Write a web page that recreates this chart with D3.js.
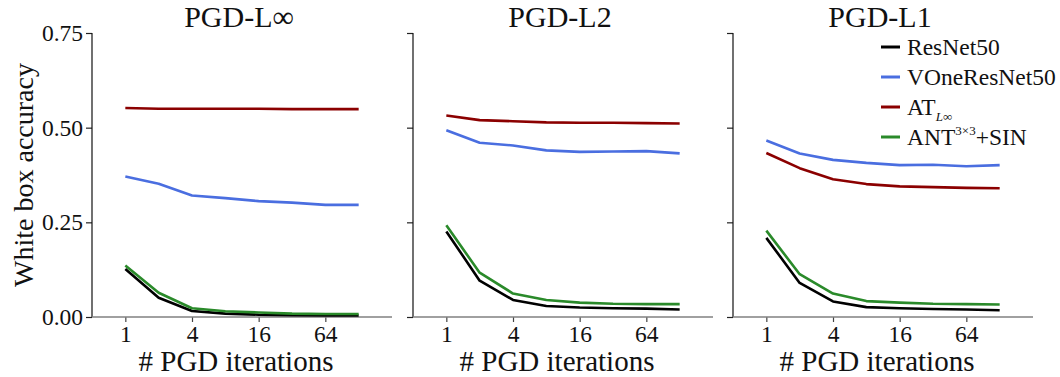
<!DOCTYPE html>
<html>
<head>
<meta charset="utf-8">
<script src="https://cdn.jsdelivr.net/npm/d3@7"></script>
<style>
  body { margin: 0; background: #fff; }
  svg text { font-family: "Liberation Serif", "Times New Roman", serif; fill: #111; }
</style>
</head>
<body>
<svg id="chart"></svg>
<script>
// x values (PGD iterations) shared by every panel
let iters = [1, 2, 4, 8, 16, 32, 64, 128];
let xTicks = [1, 4, 16, 64];
let yTicks = [0, 0.25, 0.5, 0.75];

let panelTitles = ["PGD-L\u221E", "PGD-L2", "PGD-L1"];
let modelNames = ["ResNet50", "VOneResNet50", "AT_Linf", "ANT3x3+SIN"];
let modelColors = ["#000000", "#4a6ee0", "#8b0000", "#2a8a2a"];

// PGD-Linf
let linfResNet = [0.127, 0.051, 0.016, 0.009, 0.006, 0.005, 0.004, 0.004];
let linfVOne   = [0.371, 0.352, 0.321, 0.314, 0.306, 0.302, 0.296, 0.296];
let linfAT     = [0.552, 0.550, 0.550, 0.550, 0.550, 0.549, 0.549, 0.549];
let linfANT    = [0.136, 0.064, 0.023, 0.015, 0.012, 0.009, 0.008, 0.008];

// PGD-L2
let l2ResNet = [0.226, 0.096, 0.045, 0.029, 0.025, 0.023, 0.022, 0.020];
let l2VOne   = [0.493, 0.460, 0.453, 0.440, 0.436, 0.437, 0.438, 0.432];
let l2AT     = [0.532, 0.520, 0.517, 0.514, 0.513, 0.513, 0.512, 0.511];
let l2ANT    = [0.242, 0.117, 0.062, 0.045, 0.038, 0.035, 0.034, 0.034];

// PGD-L1
let l1ResNet = [0.209, 0.090, 0.041, 0.026, 0.023, 0.021, 0.020, 0.018];
let l1VOne   = [0.466, 0.432, 0.415, 0.407, 0.401, 0.402, 0.398, 0.401];
let l1AT     = [0.433, 0.393, 0.364, 0.351, 0.345, 0.343, 0.341, 0.340];
let l1ANT    = [0.228, 0.113, 0.062, 0.042, 0.038, 0.035, 0.034, 0.033];

let panelData = [
  [linfResNet, linfVOne, linfAT, linfANT],
  [l2ResNet, l2VOne, l2AT, l2ANT],
  [l1ResNet, l1VOne, l1AT, l1ANT]
];

let w = 1060, h = 377;
let panelLeft = [92, 413, 733];
let pw = 300;
let yTop = 33, yBottom = 317;
let serif = "'Liberation Serif', 'Times New Roman', serif";

let svg = d3.select("#chart").attr("width", w).attr("height", h);

let xScale = d3.scaleLog().base(2).domain([0.5, 256]).range([0, pw]);
let yScale = d3.scaleLinear().domain([0, 0.75]).range([yBottom, yTop]);

function drawPanel(p) {
  let g = svg.append("g").attr("transform", "translate(" + panelLeft[p] + ",0)");

  // y axis
  let yAxis = d3.axisLeft(yScale).tickValues(yTicks).tickSize(6).tickPadding(3)
    .tickFormat(p == 0 ? d3.format(".2f") : "");
  let ya = g.append("g").call(yAxis);
  ya.select(".domain").remove();
  ya.selectAll(".tick line").attr("stroke", "#222").attr("stroke-width", 1.2);
  ya.selectAll(".tick text").attr("fill", "#111")
    .style("font-size", "23.5px").style("font-family", serif);
  g.append("line").attr("x1", 0).attr("x2", 0).attr("y1", yTop).attr("y2", yBottom)
    .attr("stroke", "#111").attr("stroke-width", 1.2);

  // x axis
  let xAxis = d3.axisBottom(xScale).tickValues(xTicks).tickSize(5).tickPadding(3)
    .tickFormat(d3.format("d"));
  let xa = g.append("g").attr("transform", "translate(0," + yBottom + ")").call(xAxis);
  xa.select(".domain").remove();
  xa.selectAll(".tick line").attr("stroke", "#444").attr("stroke-width", 1.2);
  xa.selectAll(".tick text").attr("fill", "#111")
    .style("font-size", "23.5px").style("font-family", serif);
  g.append("line").attr("x1", 0).attr("x2", pw).attr("y1", yBottom).attr("y2", yBottom)
    .attr("stroke", "#808080").attr("stroke-width", 1.5);

  // lines
  let line = d3.line()
    .x(function(d, i) { return xScale(iters[i]); })
    .y(function(d) { return yScale(d); });

  panelData[p].forEach(function(series, k) {
    g.append("path")
      .attr("d", line(series))
      .attr("fill", "none")
      .attr("stroke", modelColors[k])
      .attr("stroke-width", 2.6)
      .attr("stroke-linejoin", "round");
  });

  // title and x label
  g.append("text").attr("x", pw / 2 - 3).attr("y", 27).attr("text-anchor", "middle")
    .style("font-size", "30px").style("font-family", serif).text(panelTitles[p]);
  g.append("text").attr("x", pw / 2 - 6).attr("y", 371).attr("text-anchor", "middle")
    .style("font-size", "29px").style("font-family", serif).text("# PGD iterations");
}

for (let p = 0; p < 3; p++) drawPanel(p);

// y label
svg.append("text")
  .attr("transform", "translate(33," + ((yTop + yBottom) / 2) + ") rotate(-90)")
  .attr("text-anchor", "middle")
  .style("font-size", "28px").style("font-family", serif)
  .text("White box accuracy");

// legend
let legend = svg.append("g").attr("transform", "translate(881,47)");
modelNames.forEach(function(name, i) {
  let row = legend.append("g").attr("transform", "translate(0," + (i * 30) + ")");
  row.append("line").attr("x1", 0).attr("x2", 19).attr("y1", 0).attr("y2", 0)
    .attr("stroke", modelColors[i]).attr("stroke-width", 3);
  let t = row.append("text").attr("x", 26).attr("y", 8)
    .style("font-size", "23.5px").style("font-family", serif);
  if (name == "AT_Linf") {
    t.append("tspan").text("AT");
    t.append("tspan").attr("dy", 6).style("font-size", "13px").attr("font-style", "italic").text("L");
    t.append("tspan").style("font-size", "13px").text("\u221E");
  } else if (name == "ANT3x3+SIN") {
    t.append("tspan").text("ANT");
    t.append("tspan").attr("dy", -10).style("font-size", "13px").text("3\u00D73");
    t.append("tspan").attr("dy", 10).text("+SIN");
  } else {
    t.text(name);
  }
});
</script>
</body>
</html>
